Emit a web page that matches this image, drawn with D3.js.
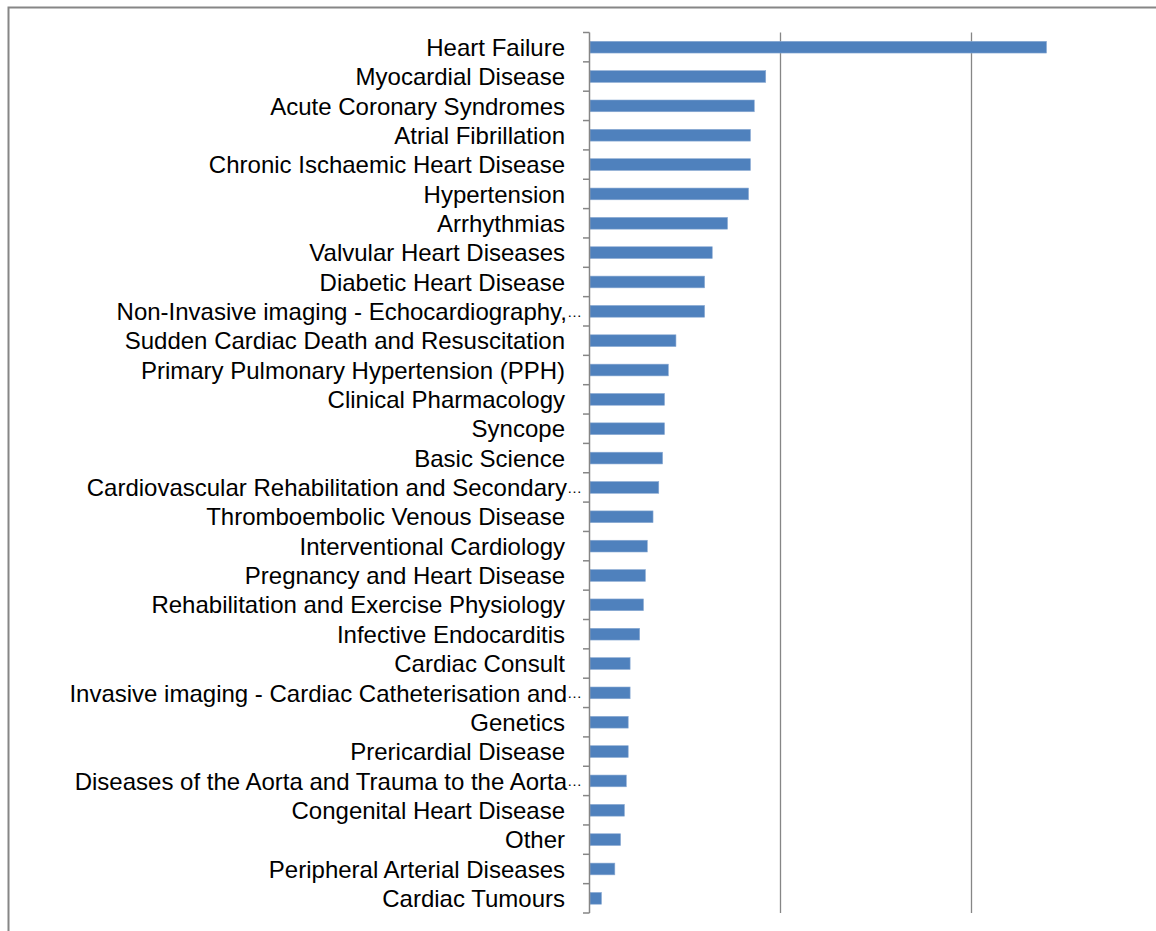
<!DOCTYPE html>
<html>
<head>
<meta charset="utf-8">
<script src="https://cdn.jsdelivr.net/npm/d3@7"></script>
<style>
  html, body { margin: 0; padding: 0; background: #fff; overflow: hidden; }
  svg { display: block; }
</style>
</head>
<body>
<svg id="chart" width="1156" height="931"></svg>
<script>
const categories = [
  "Heart Failure",
  "Myocardial Disease",
  "Acute Coronary Syndromes",
  "Atrial Fibrillation",
  "Chronic Ischaemic Heart Disease",
  "Hypertension",
  "Arrhythmias",
  "Valvular Heart Diseases",
  "Diabetic Heart Disease",
  "Non-Invasive imaging - Echocardiography,…",
  "Sudden Cardiac Death and Resuscitation",
  "Primary Pulmonary Hypertension (PPH)",
  "Clinical Pharmacology",
  "Syncope",
  "Basic Science",
  "Cardiovascular Rehabilitation and Secondary…",
  "Thromboembolic Venous Disease",
  "Interventional Cardiology",
  "Pregnancy and Heart Disease",
  "Rehabilitation and Exercise Physiology",
  "Infective Endocarditis",
  "Cardiac Consult",
  "Invasive imaging - Cardiac Catheterisation and…",
  "Genetics",
  "Prericardial Disease",
  "Diseases of the Aorta and Trauma to the Aorta…",
  "Congenital Heart Disease",
  "Other",
  "Peripheral Arterial Diseases",
  "Cardiac Tumours"
];
const values = [
  239, 92, 86, 84, 84, 83, 72, 64, 60, 60,
  45, 41, 39, 39, 38, 36, 33, 30, 29, 28,
  26, 21, 21, 20, 20, 19, 18, 16, 13, 6
];
const xTicks = [0, 100, 200, 300];

const svg = d3.select("#chart");
const plot = { left: 589, top: 32.5, right: 1162, bottom: 913 };

// chart outer border (right and bottom edges fall outside the picture)
svg.append("rect")
  .attr("x", 8.5).attr("y", 7.5)
  .attr("width", 1170).attr("height", 950)
  .attr("fill", "none")
  .attr("stroke", "#868686")
  .attr("stroke-width", 2);

const x = d3.scaleLinear().domain([0, 300]).range([plot.left, plot.right]);
const y = d3.scaleBand().domain(categories).range([plot.top, plot.bottom])
  .paddingInner(0.6).paddingOuter(0.3);

// gridlines
svg.append("g")
  .selectAll("line")
  .data(xTicks.slice(1))
  .join("line")
  .attr("x1", d => Math.round(x(d)) + 0.5)
  .attr("x2", d => Math.round(x(d)) + 0.5)
  .attr("y1", plot.top)
  .attr("y2", plot.bottom)
  .attr("stroke", "#868686")
  .attr("stroke-width", 1.3);

// bars
svg.append("g")
  .selectAll("rect")
  .data(values)
  .join("rect")
  .attr("x", x(0) + 1)
  .attr("y", (d, i) => y(categories[i]))
  .attr("width", d => x(d) - x(0))
  .attr("height", y.bandwidth())
  .attr("fill", "#4f81bd")
  .attr("stroke", "#8aaad3")
  .attr("stroke-width", 0.6);

// category axis
const boundaries = d3.range(categories.length + 1).map(i => plot.top + i * (plot.bottom - plot.top) / categories.length);
const axisG = svg.append("g");
axisG.append("line")
  .attr("x1", plot.left + 0.5).attr("x2", plot.left + 0.5)
  .attr("y1", plot.top).attr("y2", plot.bottom)
  .attr("stroke", "#868686").attr("stroke-width", 1.5);
axisG.selectAll("line.tick")
  .data(boundaries)
  .join("line")
  .attr("class", "tick")
  .attr("x1", plot.left - 6).attr("x2", plot.left + 0.5)
  .attr("y1", d => d).attr("y2", d => d)
  .attr("stroke", "#868686").attr("stroke-width", 1.5);

const labelX = 565;
const labels = svg.append("g")
  .attr("font-family", "'Liberation Sans', Arial, sans-serif")
  .attr("font-size", 24)
  .attr("fill", "#000");

categories.forEach(c => {
  const cy = y(c) + y.bandwidth() / 2;
  const trunc = c.endsWith("…");
  labels.append("text")
    .attr("x", trunc ? labelX + 2 : labelX)
    .attr("y", cy)
    .attr("dy", "0.36em")
    .attr("text-anchor", "end")
    .text(trunc ? c.slice(0, -1) : c);
  if (trunc) {
    labels.append("text")
      .attr("x", labelX + 2)
      .attr("y", cy)
      .attr("dy", "0.36em")
      .attr("text-anchor", "start")
      .attr("font-size", 15)
      .text("…");
  }
});
</script>
</body>
</html>
